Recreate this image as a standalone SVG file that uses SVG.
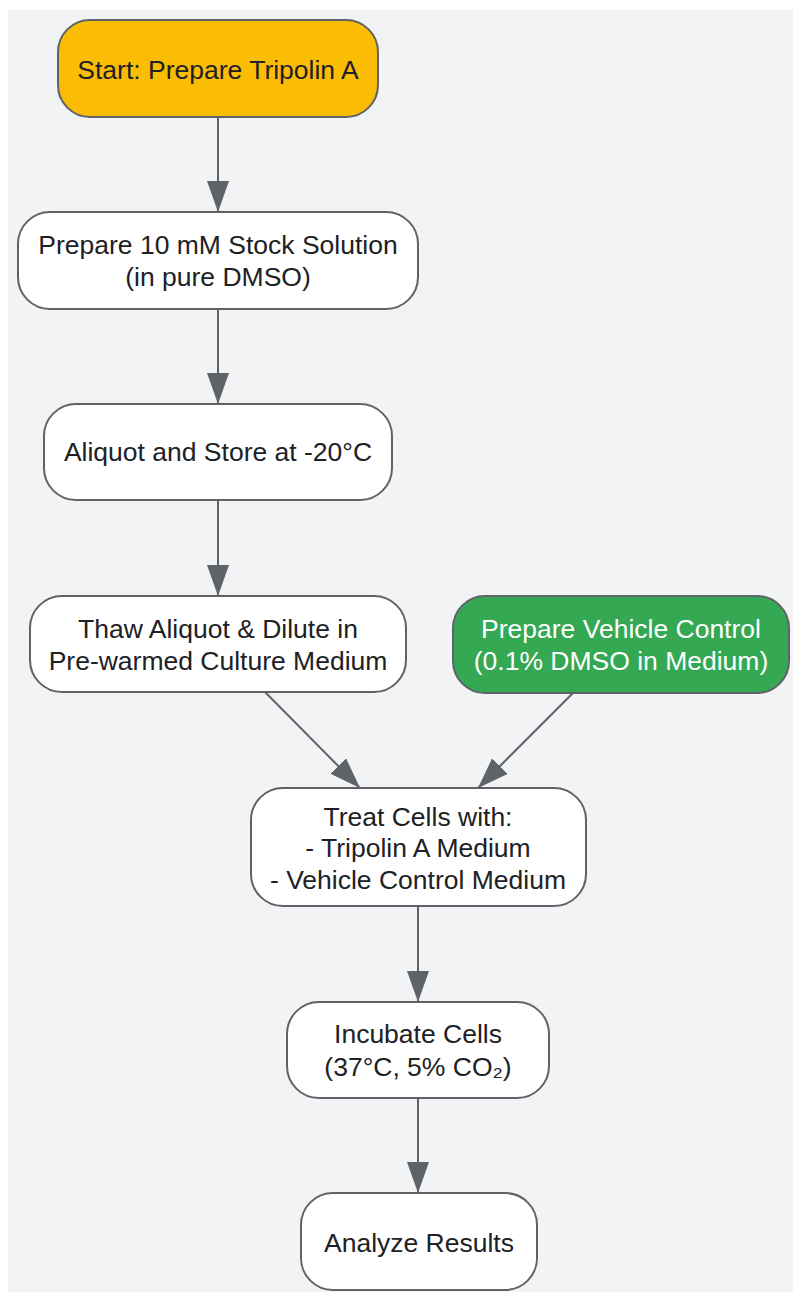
<svg xmlns="http://www.w3.org/2000/svg" width="793" height="1294" viewBox="0 0 793 1294">
<style>
.n{stroke:#5f6368;stroke-width:2}
.w{fill:#ffffff}
.t{font-family:"Liberation Sans",Arial,sans-serif;font-size:26.5px;fill:#202124;text-anchor:middle}
.tw{fill:#ffffff}
.e{stroke:#5f6368;stroke-width:2;fill:none;marker-end:url(#ah)}
</style>
<defs>
<marker id="ah" markerUnits="userSpaceOnUse" markerWidth="32" markerHeight="24" refX="31" refY="11" orient="auto">
<path d="M0,0 L31,11 L0,22 Z" fill="#5f6368"/>
</marker>
</defs>
<rect x="8" y="10" width="785" height="1282" fill="#f1f3f4"/>
<g id="edges">
<line class="e" x1="218" y1="117" x2="218" y2="212"/>
<line class="e" x1="218" y1="309" x2="218" y2="404"/>
<line class="e" x1="218" y1="500" x2="218" y2="596"/>
<line class="e" x1="265" y1="692" x2="360" y2="788"/>
<line class="e" x1="573" y1="693" x2="478" y2="788"/>
<line class="e" x1="418" y1="906" x2="418" y2="1002"/>
<line class="e" x1="418" y1="1098" x2="418" y2="1193"/>
</g>
<g id="start">
<rect class="n" x="58" y="20" width="320" height="97" rx="32" fill="#fbbc04"/>
<text class="t" x="218" y="78.5">Start: Prepare Tripolin A</text>
</g>
<g id="stock">
<rect class="n w" x="18" y="212" width="400" height="97" rx="32"/>
<text class="t" x="218" y="253.5">Prepare 10 mM Stock Solution</text>
<text class="t" x="218" y="286">(in pure DMSO)</text>
</g>
<g id="aliquot">
<rect class="n w" x="44" y="404" width="348" height="96" rx="32"/>
<text class="t" x="218" y="461">Aliquot and Store at -20°C</text>
</g>
<g id="thaw">
<rect class="n w" x="30" y="596" width="376" height="96" rx="32"/>
<text class="t" x="218" y="638">Thaw Aliquot &amp; Dilute in</text>
<text class="t" x="218" y="670">Pre-warmed Culture Medium</text>
</g>
<g id="vehicle">
<rect class="n" x="453" y="596" width="336" height="97" rx="32" fill="#34a853"/>
<text class="t tw" x="621" y="638">Prepare Vehicle Control</text>
<text class="t tw" x="621" y="670">(0.1% DMSO in Medium)</text>
</g>
<g id="treat">
<rect class="n w" x="251" y="788" width="335" height="118" rx="32"/>
<text class="t" x="418" y="825.5">Treat Cells with:</text>
<text class="t" x="418" y="857">- Tripolin A Medium</text>
<text class="t" x="418" y="888.5">- Vehicle Control Medium</text>
</g>
<g id="incubate">
<rect class="n w" x="287" y="1002" width="262" height="96" rx="32"/>
<text class="t" x="418" y="1043">Incubate Cells</text>
<text class="t" x="418" y="1075.5">(37°C, 5% CO₂)</text>
</g>
<g id="analyze">
<rect class="n w" x="301" y="1193" width="236" height="97" rx="32"/>
<text class="t" x="419" y="1252">Analyze Results</text>
</g>
</svg>
